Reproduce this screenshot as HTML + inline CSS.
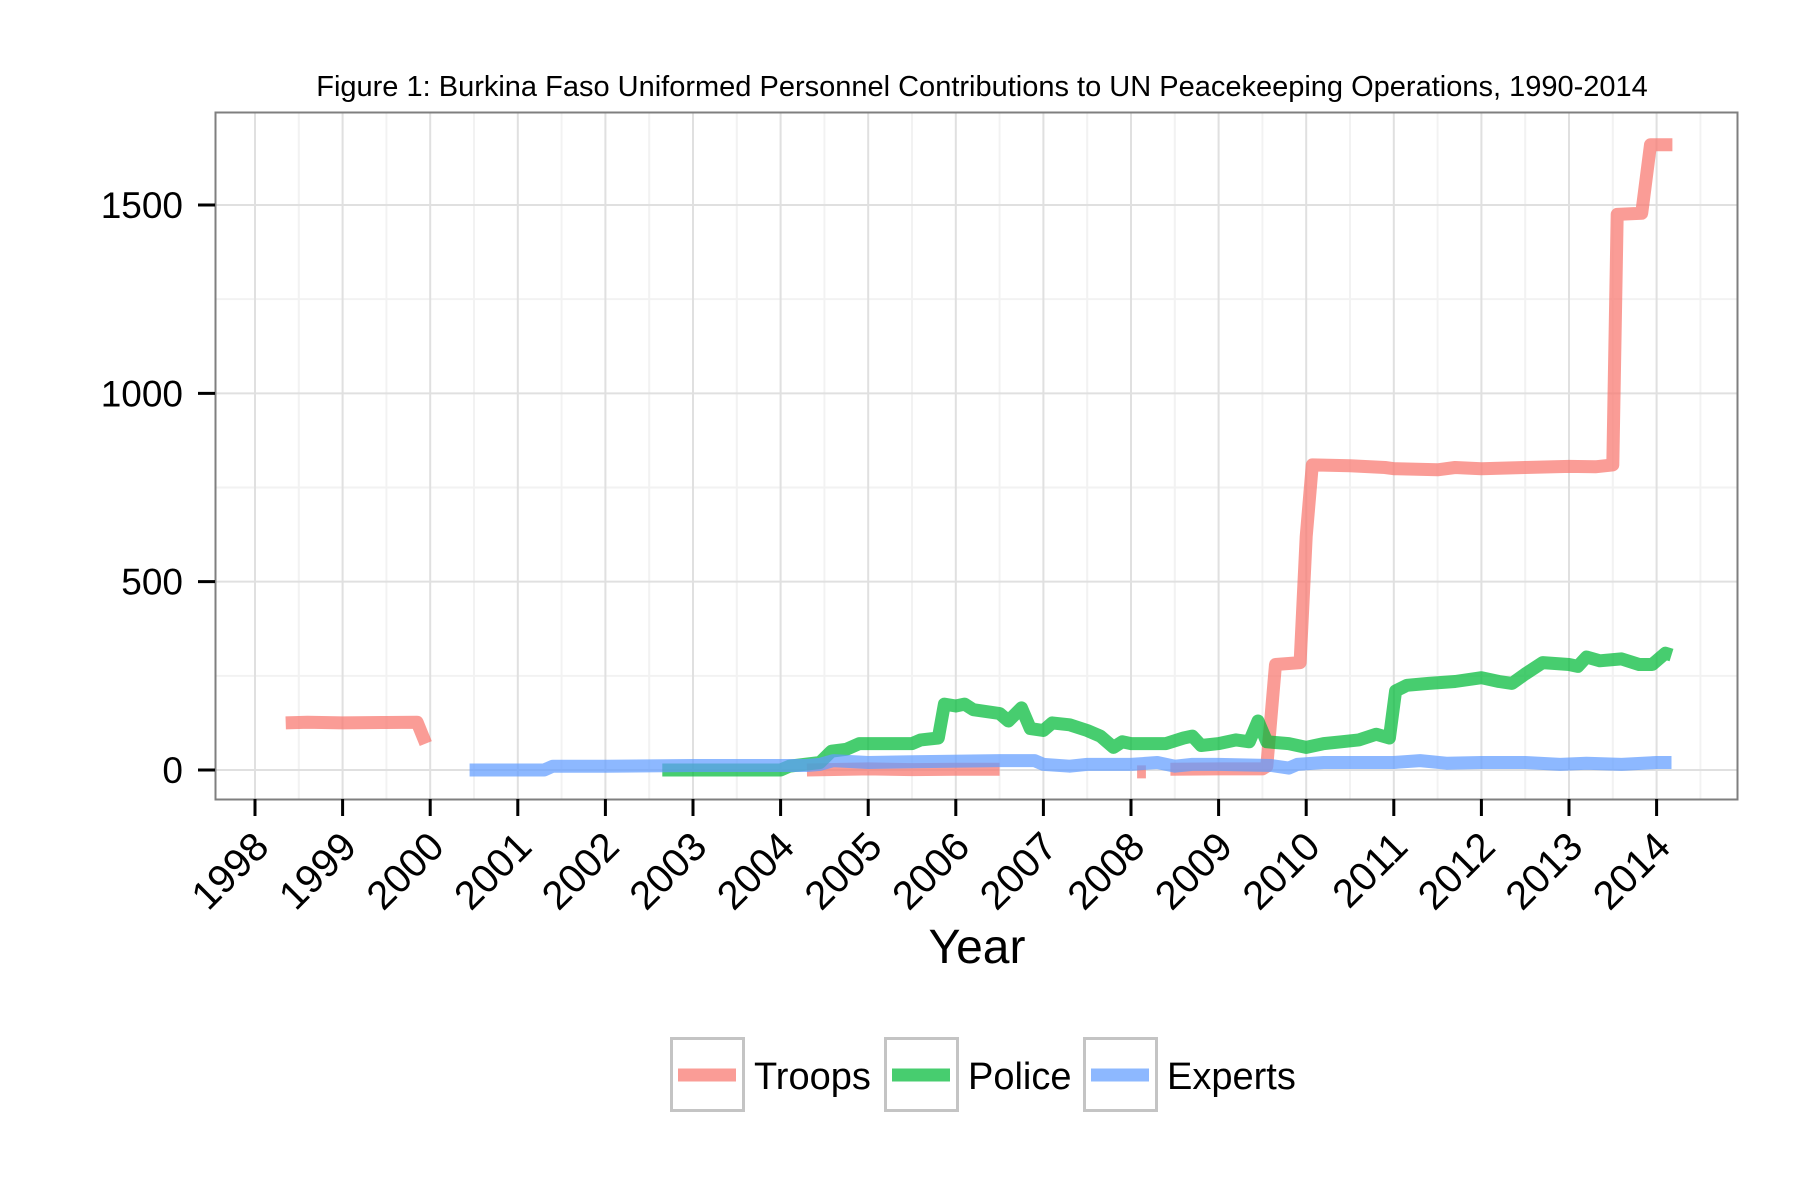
<!DOCTYPE html>
<html><head><meta charset="utf-8"><style>
html,body{margin:0;padding:0;background:#fff}
svg{display:block;font-family:"Liberation Sans",Arial,sans-serif}
</style></head><body>
<svg id="chart" width="1800" height="1200" viewBox="0 0 1800 1200">
<text x="982" y="96" font-size="29" text-anchor="middle">Figure 1: Burkina Faso Uniformed Personnel Contributions to UN Peacekeeping Operations, 1990-2014</text>
<rect x="215.5" y="112.5" width="1522" height="687" fill="#fff"/>
<g id="grid"></g>
<g id="series"></g>
<rect x="215.5" y="112.5" width="1522" height="687" fill="none" stroke="#7f7f7f" stroke-width="2"/>
<g id="axes"></g>
<text x="977" y="963" font-size="48" text-anchor="middle">Year</text>
<g id="legend"></g>
</svg>
<script>
const yearTicks = [1998,1999,2000,2001,2002,2003,2004,2005,2006,2007,2008,2009,2010,2011,2012,2013,2014];
const valueTicks = [0,500,1000,1500];
const troopYears = [1998.35,1998.6,1999.0,1999.5,1999.85,1999.95,null,2004.3,2005.0,2005.5,2006.0,2006.5,null,2008.07,2008.17,null,2008.45,2009.0,2009.5,2009.55,2009.65,2009.93,2010.0,2010.07,2010.5,2010.9,2011.0,2011.5,2011.7,2012.0,2012.5,2013.0,2013.3,2013.5,2013.55,2013.83,2013.93,2014.18];
const troopValues = [125,127,125,126,127,70,null,0,3,1,2,2,null,-5,-5,null,2,3,3,10,280,285,620,810,808,803,800,797,803,800,803,806,805,810,1475,1478,1660,1660];
const policeYears = [2002.65,2003.5,2004.0,2004.1,2004.45,2004.58,2004.75,2004.9,2005.5,2005.6,2005.8,2005.87,2006.0,2006.1,2006.2,2006.5,2006.6,2006.75,2006.85,2007.0,2007.1,2007.3,2007.5,2007.65,2007.8,2007.9,2008.0,2008.4,2008.6,2008.7,2008.8,2009.0,2009.2,2009.35,2009.45,2009.55,2009.8,2010.0,2010.2,2010.4,2010.6,2010.8,2010.95,2011.02,2011.15,2011.4,2011.7,2012.0,2012.2,2012.35,2012.5,2012.7,2013.0,2013.1,2013.2,2013.35,2013.6,2013.8,2013.95,2014.1,2014.17];
const policeValues = [0,0,0,10,20,50,55,70,70,80,85,175,170,175,160,150,130,165,110,105,125,120,105,90,60,75,70,70,85,90,65,70,80,75,130,75,70,60,70,75,80,95,85,210,225,230,235,245,235,230,255,285,280,275,300,290,295,280,280,310,305];
const expertYears = [2000.45,2001.3,2001.4,2002.0,2003.0,2004.3,2004.45,2004.6,2005.0,2005.5,2006.5,2006.9,2007.0,2007.3,2007.5,2008.0,2008.3,2008.5,2008.7,2009.0,2009.6,2009.8,2009.9,2010.2,2011.0,2011.3,2011.6,2012.0,2012.5,2012.9,2013.2,2013.6,2014.0,2014.17];
const expertValues = [0,0,10,10,12,12,15,25,20,22,25,25,15,10,15,15,20,10,15,15,12,5,15,20,20,25,18,20,20,15,18,15,20,20];

const NS="http://www.w3.org/2000/svg";
const X0=215,X1=1738,Y0=112,Y1=799;
function xs(y){return 255+(y-1998)*87.6;}
function ys(v){return 770-v*(565/1500);}
function el(tag,attrs,parent){const e=document.createElementNS(NS,tag);for(const k in attrs)e.setAttribute(k,attrs[k]);parent.appendChild(e);return e;}
const grid=document.getElementById('grid'),axes=document.getElementById('axes'),series=document.getElementById('series'),legend=document.getElementById('legend');
for(let i=0;i<yearTicks.length+1;i++){const y=yearTicks[0]-0.5+i;const x=xs(y);if(x>X0&&x<X1){const l=el('line',{x1:x,x2:x,y1:Y0,y2:Y1,stroke:'#f2f2f2','stroke-width':2},grid);

}}
[250,750,1250].forEach(v=>{const l=el('line',{x1:X0,x2:X1,y1:ys(v),y2:ys(v),stroke:'#f2f2f2','stroke-width':2},grid);

});
yearTicks.forEach(y=>{const x=xs(y);const l=el('line',{x1:x,x2:x,y1:Y0,y2:Y1,stroke:'#e0e0e0','stroke-width':2},grid);


const t=el('line',{x1:x,x2:x,y1:Y1,y2:Y1+17,stroke:'#000','stroke-width':3},axes);


const ax=x+16,ay=Y1+50;
const tx=el('text',{x:ax,y:ay,'font-size':40,'text-anchor':'end',transform:`rotate(-45 ${ax} ${ay})`},axes);tx.textContent=y;

});
valueTicks.forEach(v=>{const y=ys(v);const l=el('line',{x1:X0,x2:X1,y1:y,y2:y,stroke:'#e0e0e0','stroke-width':2},grid);


const t=el('line',{x1:X0-17,x2:X0,y1:y,y2:y,stroke:'#000','stroke-width':3},axes);


const tx=el('text',{x:X0-32,y:y+13,'font-size':37,'text-anchor':'end'},axes);tx.textContent=v;

});
function drawSeries(xsArr,vArr,color,name){let d='',pen=false;for(let i=0;i<xsArr.length;i++){if(xsArr[i]===null||vArr[i]===null){pen=false;continue;}d+=(pen?'L':'M')+xs(xsArr[i]).toFixed(1)+','+ys(vArr[i]).toFixed(1)+' ';pen=true;}
const p=el('path',{d:d,fill:'none',stroke:color,'stroke-width':13,'stroke-opacity':0.72,'stroke-linejoin':'round'},series);

}
drawSeries(troopYears,troopValues,'#F8766D','troops-line');
drawSeries(policeYears,policeValues,'#00BA38','police-line');
drawSeries(expertYears,expertValues,'#619CFF','experts-line');
const keys=[['Troops','#F8766D',670],['Police','#00BA38',884],['Experts','#619CFF',1083]];
keys.forEach(k=>{const g=el('g',{},legend);


el('rect',{x:k[2]+1.5,y:1038.5,width:72,height:72,fill:'#fff',stroke:'#c4c4c4','stroke-width':3},g);
el('line',{x1:k[2]+8,x2:k[2]+66,y1:1075,y2:1075,stroke:k[1],'stroke-width':13,'stroke-opacity':0.72},g);
const t=el('text',{x:k[2]+84,y:1089,'font-size':38},g);t.textContent=k[0];});
</script>
</body></html>
